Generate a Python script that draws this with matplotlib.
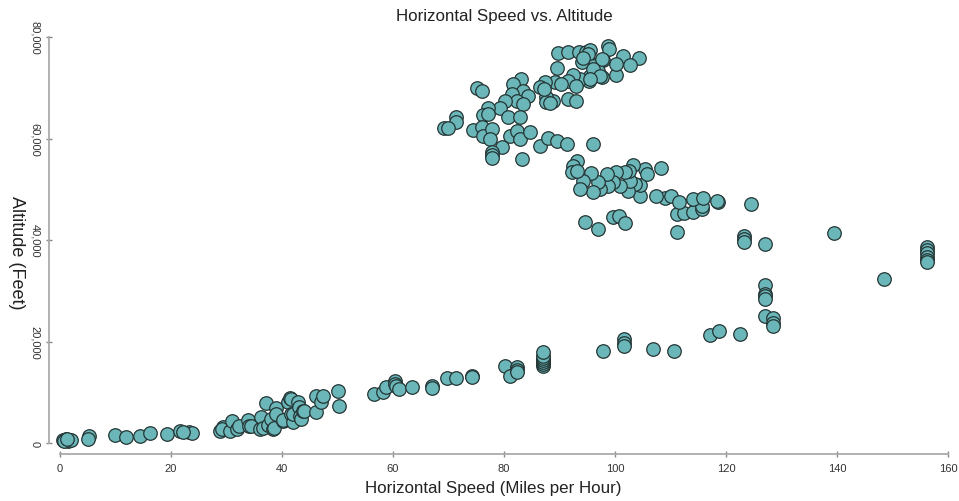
import matplotlib

matplotlib.use("agg")
import matplotlib.pyplot as plt

plt.rcParams["font.family"] = ["Liberation Sans", "DejaVu Sans"]

# horizontal speed (mph) and altitude (feet)
speed = [
    0.5, 1.0, 1.5, 2.0, 0.8, 1.2, 5.2, 5.0,
    9.9, 11.9, 14.4, 16.2, 19.2, 21.6, 23.3, 23.7, 22.2,
    28.8, 29.4, 29.1, 30.6, 31.0, 31.9, 32.2, 33.9, 34.1, 34.5, 36.0, 36.3, 36.6,
    37.2, 37.5, 38.4, 38.1, 38.6, 38.9, 39.0, 40.2, 40.2, 41.1, 41.4, 41.6, 41.7,
    41.9, 41.9, 42.8, 43.1, 43.2, 43.5, 43.7, 43.9, 46.1, 46.2, 47.1, 47.3, 50.0, 50.2,
    56.5, 58.2, 58.7, 60.4, 60.4, 60.5, 61.0, 63.5, 67.0, 67.0, 69.7, 71.4, 74.2, 74.2,
    80.2, 81.0, 82.3, 82.3, 82.3, 87.1, 87.1, 87.1, 87.1, 87.1, 87.1, 87.1,
    97.9, 101.6, 101.6, 101.6, 106.8, 110.7, 117.1, 118.8, 122.5,
    127.1, 127.1, 127.1, 127.1, 127.1, 128.5, 128.5, 128.5,
    123.3, 123.3, 123.3, 127.0, 139.5, 148.5,
    156.3, 156.3, 156.3, 156.3, 156.3, 156.3,
    124.5, 111.1, 111.1, 112.5, 114.0, 115.6, 115.6, 118.6, 118.4, 109.0, 110.0,
    107.4, 111.6, 114.1, 115.8, 104.5, 104.5, 103.6, 105.4, 105.7, 108.2, 102.4,
    102.7, 103.2, 102.6, 101.8, 100.9, 100.2, 99.6, 98.8, 98.5, 97.3, 97.0, 96.1,
    95.6, 94.3, 93.7, 93.1, 92.5, 92.2, 93.1, 94.6, 97.0, 99.7, 100.8, 101.8,
    89.8, 91.6, 93.6, 94.8, 95.5, 95.2, 98.8, 99.0, 101.4, 104.4, 102.7, 100.2,
    100.2, 97.8, 97.6, 96.7, 96.0, 97.0, 95.5, 95.4, 94.0, 94.2, 93.7, 92.5, 91.6,
    93.0, 89.6, 89.2, 87.4, 86.5, 90.2, 91.6, 93.0, 88.9, 87.6, 87.6, 88.2, 87.2,
    97.6, 96.1, 97.3, 95.5,
    83.0, 81.7, 83.5, 84.4, 81.4, 82.4, 83.5, 80.2, 79.3, 77.2, 76.3, 77.2, 80.8,
    82.9, 75.2, 76.0, 71.4, 71.4, 69.2, 69.9, 74.5, 76.0, 76.2, 77.8, 77.5, 81.1,
    82.3, 82.9, 84.6, 79.6, 77.8, 77.8, 77.8, 83.2, 86.5, 87.9, 89.5, 91.3, 96.0,
]
altitude = [
    600, 800, 500, 700, 400, 900, 1500, 900,
    1700, 1300, 1500, 2000, 1800, 2400, 2200, 2000, 2300,
    2500, 3150, 2800, 2500, 4450, 2800, 3470, 4650, 3470, 3470, 2820, 5100, 2950,
    7880, 3600, 2800, 4800, 2950, 6900, 5770, 4450, 4650, 8080, 8860, 8730, 5770,
    4140, 5770, 8200, 7100, 5440, 4790, 6420, 6420, 9380, 6100, 8080, 9260, 10360, 7290,
    9770, 10050, 11030, 12330, 11600, 11200, 10700, 11030, 11230, 10800, 12800, 12860, 13200, 13000,
    15290, 13320, 14970, 14400, 14000, 15300, 15700, 16100, 16500, 16900, 17300, 17900,
    18240, 20550, 19800, 19230, 18580, 18240, 21330, 22120, 21530,
    31240, 29500, 29080, 28400, 25020, 24680, 23800, 23200,
    40900, 40300, 39700, 39260, 41430, 32370,
    38610, 38000, 37400, 36800, 36200, 35700,
    47200, 41690, 45170, 45370, 45500, 46150, 46800, 47470, 47800, 48260, 48660,
    48770, 47600, 48130, 48330, 48770, 50880, 51080, 54030, 53050, 54180, 49760,
    51730, 54820, 53700, 53380, 50750, 53500, 51420, 50750, 53050, 50100, 51420, 49450,
    53250, 51730, 50100, 55670, 54690, 53380, 53700, 43540, 42220, 44520, 44720, 43340,
    76890, 77150, 77150, 77150, 77540, 76690, 78330, 77680, 76360, 75850, 74530, 72560,
    74730, 75580, 72100, 74730, 74400, 73400, 72420, 71310, 75060, 75850, 71770, 72560, 71440,
    70330, 73880, 71120, 71240, 70130, 70780, 67830, 67490, 67490, 68160, 67180, 67000, 69800,
    75810, 73740, 72420, 71770,
    71770, 70780, 69470, 68480, 68810, 67490, 66840, 67490, 65990, 65990, 64680, 64870, 64220,
    64220, 69930, 69460, 64220, 63240, 62060, 62100, 61780, 62250, 60600, 61920, 59950, 60600,
    61580, 59950, 61270, 58310, 57400, 56800, 56200, 56010, 58510, 60090, 59610, 58960, 58960,
]

x_ticks = [0, 20, 40, 60, 80, 100, 120, 140, 160]
y_ticks = [0, 20000, 40000, 60000, 80000]
y_tick_labels = ["0", "20,000", "40,000", "60,000", "80,000"]

fig = plt.figure(figsize=(9.59, 5.02), dpi=100)
ax = fig.add_axes([60 / 959, 57.7 / 502, 888 / 959, 406 / 502])

ax.scatter(speed, altitude, s=95, facecolor="#6ab6b8", edgecolor="#253535",
           linewidth=0.9, clip_on=False, zorder=3)

ax.set_xlim(0, 160)
ax.set_ylim(0, 80000)

for side in ["top", "right"]:
    ax.spines[side].set_visible(False)
for side in ["left", "bottom"]:
    ax.spines[side].set_position(("outward", 8))
    ax.spines[side].set_color("#aaaaaa")
    ax.spines[side].set_linewidth(1.3)
ax.spines["left"].set_bounds(0, 80000)
ax.spines["bottom"].set_bounds(0, 160)

ax.set_xticks(x_ticks)
ax.set_yticks(y_ticks)
ax.set_yticklabels(y_tick_labels, rotation=270, va="center")
ax.tick_params(axis="both", direction="inout", length=5, width=1,
               color="#888888", labelcolor="#333333", labelsize=8)
ax.tick_params(axis="x", pad=4)
ax.tick_params(axis="y", pad=4)

ax.set_xlabel("Horizontal Speed (Miles per Hour)", fontsize=12.2, color="#222222")
ax.xaxis.set_label_coords((493 - 60) / 888, -0.09)
ax.set_ylabel("Altitude (Feet)", fontsize=13, color="#222222",
              rotation=270, va="center", ha="center")
ax.yaxis.set_label_coords((16 - 60) / 888, 0.472)
ax.set_title("Horizontal Speed vs. Altitude", fontsize=12.2, color="#222222", pad=12.5)

plt.savefig("out.png", dpi=100)
plt.close()
